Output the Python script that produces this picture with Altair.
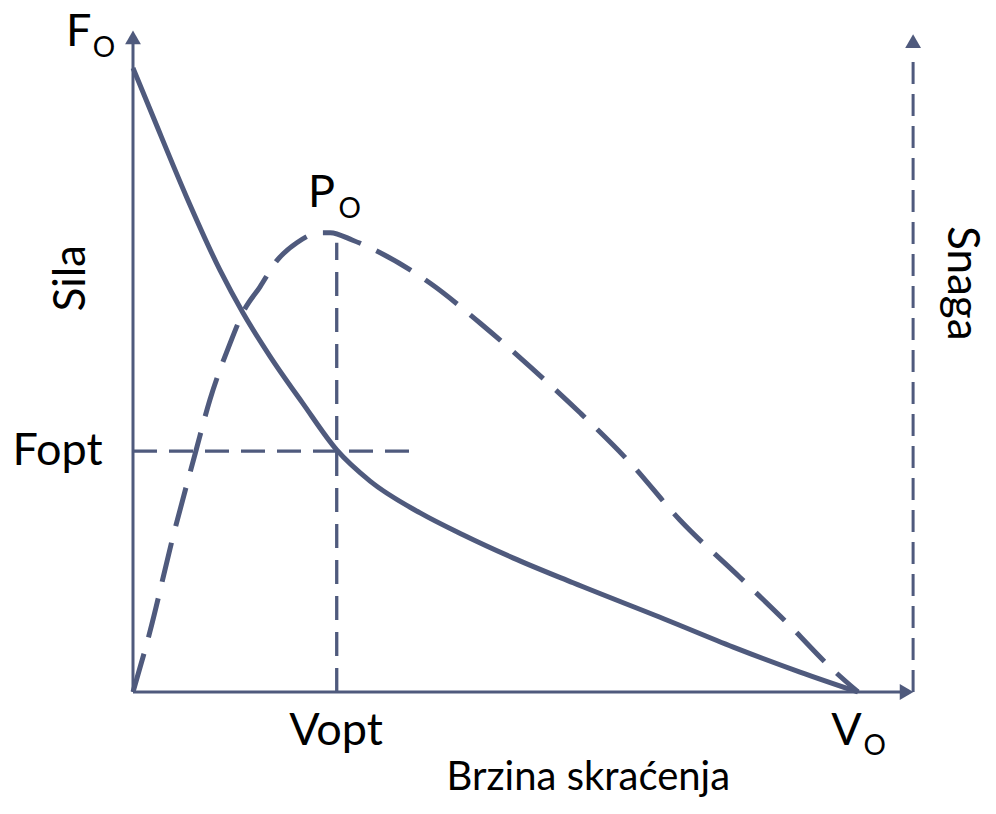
import altair as alt
import pandas as pd

# ---- data (velocity in % of V0, force / power in % of their maximum) ----
force_v = [0, 2.8, 7.4, 12.0, 15.2, 18.9, 23.4, 28.1, 32.7, 39.6, 45.5, 52.4, 60.7, 73.7, 82.8, 92.0, 100]
force_f = [100, 92.1, 79.3, 67.6, 60.7, 53.8, 46.3, 38.8, 33.8, 28.7, 25.2, 21.5, 17.5, 11.5, 7.2, 3.2, 0]

power_v = [0, 2.3, 5.5, 8.6, 10.6, 13.4, 15.2, 17.5, 19.9, 22.6, 25.8, 27.2, 30.3, 34.1, 41.0,
           47.9, 54.8, 61.7, 68.6, 75.4, 83.7, 90.2, 96.6, 100]
power_p = [0, 9.5, 24.8, 38.3, 46.8, 55.9, 60.9, 64.9, 69.2, 72.0, 73.6, 73.6, 72.4, 70.4, 65.5,
           59.1, 52.1, 44.7, 36.7, 27.6, 18.4, 11.1, 3.5, 0]

v_opt = 28.1
f_opt = 38.6
v_opt_top = 72.0
f_opt_end = 39.3

axis_top = 104.9
axis_right = 107.6

COLOR = "#4f5a7d"
FONT = "Lato"

xs = alt.Scale(domain=[-17.241, 117.931], nice=False, zero=False)
ys = alt.Scale(domain=[-18.269, 109.615], nice=False, zero=False)

def X(f="x"):
    return alt.X(f"{f}:Q", scale=xs, axis=None)

def Y(f="y"):
    return alt.Y(f"{f}:Q", scale=ys, axis=None)

force_df = pd.DataFrame({"x": force_v, "y": force_f})
power_df = pd.DataFrame({"x": power_v, "y": power_p})

force_line = alt.Chart(force_df).mark_line(color=COLOR, strokeWidth=5, interpolate="monotone").encode(x=X(), y=Y())
power_line = alt.Chart(power_df).mark_line(color=COLOR, strokeWidth=5, strokeDash=[40, 17],
                                           interpolate="monotone").encode(x=X(), y=Y())

# solid axes
axes_df = pd.DataFrame({"x": [0, 0], "y": [0, 0], "x2": [0, axis_right - 1.0], "y2": [axis_top - 0.5, 0]})
axes = alt.Chart(axes_df).mark_rule(color=COLOR, strokeWidth=3).encode(
    x=X(), y=Y(), x2="x2:Q", y2="y2:Q")

# dashed power axis on the right
raxis_df = pd.DataFrame({"x": [axis_right], "y": [0], "y2": [101.9]})
raxis = alt.Chart(raxis_df).mark_rule(color=COLOR, strokeWidth=3, strokeDash=[22, 10]).encode(
    x=X(), y=Y(), y2="y2:Q")

# dashed guides for Vopt / Fopt
guides_df = pd.DataFrame({"x": [v_opt, 0], "y": [0, f_opt], "x2": [v_opt, f_opt_end], "y2": [v_opt_top, f_opt]})
guides = alt.Chart(guides_df).mark_rule(color=COLOR, strokeWidth=3.3, strokeDash=[24, 12]).encode(
    x=X(), y=Y(), x2="x2:Q", y2="y2:Q")

# arrow heads
up_df = pd.DataFrame({"x": [0, axis_right], "y": [axis_top, 104.3]})
up_heads = alt.Chart(up_df).mark_point(shape="triangle-up", filled=True, size=250, color=COLOR, opacity=1).encode(
    x=X(), y=Y())
right_df = pd.DataFrame({"x": [axis_right - 0.9], "y": [0]})
right_heads = alt.Chart(right_df).mark_point(shape="triangle-right", filled=True, size=250, color=COLOR,
                                             opacity=1).encode(x=X(), y=Y())

# labels
main_labels = pd.DataFrame({
    "x": [-7.5, 26.0, -10.4, 28.0, 98.4],
    "y": [103.5, 77.7, 36.4, -8.5, -8.5],
    "t": ["F", "P", "Fopt", "Vopt", "V"],
})
sub_labels = pd.DataFrame({
    "x": [-4.0, 29.9, 102.3],
    "y": [101.8, 76.0, -10.1],
    "t": ["O", "O", "O"],
})

t_main = alt.Chart(main_labels).mark_text(font=FONT, fontSize=45, color="black", baseline="alphabetic",
                                          align="center").encode(x=X(), y=Y(), text="t:N")
t_sub = alt.Chart(sub_labels).mark_text(font=FONT, fontSize=28, color="black", baseline="alphabetic",
                                        align="center").encode(x=X(), y=Y(), text="t:N")

xtitle = alt.Chart(pd.DataFrame({"x": [62.8], "y": [-15.7], "t": ["Brzina skraćenja"]})).mark_text(
    font=FONT, fontSize=40, color="black", baseline="alphabetic", align="center").encode(x=X(), y=Y(), text="t:N")

ytitle = alt.Chart(pd.DataFrame({"x": [-8.4], "y": [66.3], "t": ["Sila"]})).mark_text(
    font=FONT, fontSize=44, color="black", baseline="middle", align="center", angle=270).encode(
    x=X(), y=Y(), text="t:N")

y2title = alt.Chart(pd.DataFrame({"x": [114.2], "y": [65.5], "t": ["Snaga"]})).mark_text(
    font=FONT, fontSize=44, color="black", baseline="middle", align="center", angle=90).encode(
    x=X(), y=Y(), text="t:N")

chart = alt.layer(
    axes, raxis, guides, force_line, power_line, up_heads, right_heads,
    t_main, t_sub, xtitle, ytitle, y2title
).properties(
    width=980, height=798, padding=0, autosize=alt.AutoSizeParams(type="none"), background="white"
).configure_view(stroke=None)

chart.save("out.html", embed_options={"renderer": "svg", "actions": False})
